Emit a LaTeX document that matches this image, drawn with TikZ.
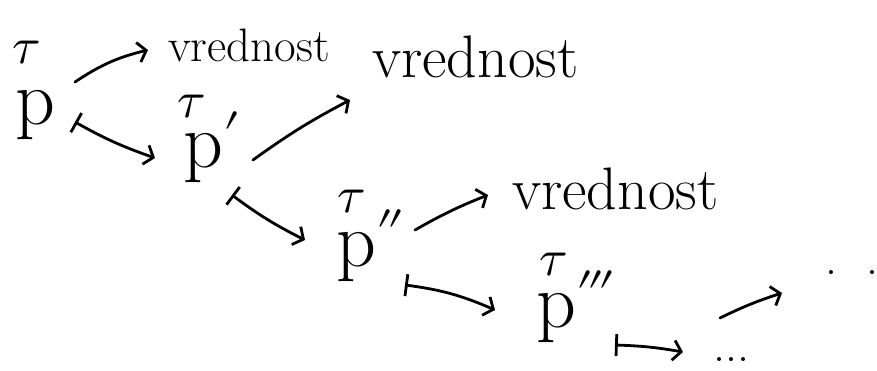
\documentclass[tikz,border=0pt]{standalone}
\usepackage{unicode-math}
\usetikzlibrary{arrows.meta}
\newcommand{\lowprime}[1]{\raisebox{-13pt}{$#1$}}
\begin{document}
\begin{tikzpicture}[x=1pt,y=-1pt,
  pn/.style={inner sep=0pt, anchor=base west, text height=34pt, text depth=15pt, font=\fontsize{78}{90}\selectfont},
  tn/.style={inner sep=0pt, anchor=base, font=\fontsize{52}{60}\selectfont},
  wn/.style={inner sep=0pt, anchor=base west},
  arr/.style={line width=2.8pt, line cap=round, -{Straight Barb[length=8pt,width=20pt,line width=2.8pt]}},
  mto/.style={line width=2.8pt, line cap=round, {Bar[width=22pt,line width=2.8pt]}-{Straight Barb[length=8pt,width=20pt,line width=2.8pt]}}
]
\useasboundingbox (0,0) rectangle (877,371);
% p nodes
\node[pn] (p0) at (15,125) {p};
\node[pn] (p1) at (183,168) {p\lowprime{'}};
\node[pn] (p2) at (336,266) {p\lowprime{''}};
\node[pn] (p3) at (536,327) {p\lowprime{'''}};
% tau marks
\node[tn] (t0) at (27,64) {$\tau$};
\node[tn] (t1) at (192,118) {$\tau$};
\node[tn] (t2) at (352,213) {$\tau$};
\node[tn] (t3) at (554,275) {$\tau$};
% values
\node[wn, font=\fontsize{47}{54}\selectfont] (v1) at (168,62) {vrednost};
\node[wn, font=\fontsize{60}{68}\selectfont] (v2) at (372,78) {vrednost};
\node[wn, font=\fontsize{60}{68}\selectfont] (v3) at (512,210) {vrednost};
\node[wn, font=\fontsize{48}{56}\selectfont] (d1) at (713,361) {...};
\node[wn, font=\fontsize{48}{56}\selectfont] (d2) at (825,274) {.\ \ .};
% arrows
\draw[arr] ([shift={(60,-43)}]p0.base west) to[bend left=10] ([shift={(-20,-12)}]v1.base west);
\draw[mto] ([shift={(60,-3)}]p0.base west) to[bend right=5] ([shift={(-28,-10)}]p1.base west);
\draw[arr] ([shift={(70,-8)}]p1.base west) to[bend left=4] ([shift={(-22,22)}]v2.base west);
\draw[mto] ([shift={(49,27)}]p1.base west) to[bend right=5] ([shift={(-31,-26)}]p2.base west);
\draw[arr] ([shift={(79,-36)}]p2.base west) to[bend left=4] ([shift={(-24,-15)}]v3.base west);
\draw[mto] ([shift={(69,19)}]p2.base west) to[bend left=8] ([shift={(-41,-17)}]p3.base west);
\draw[mto] ([shift={(79,18)}]p3.base west) to[bend left=4] ([shift={(-30,-9)}]d1.base west);
\draw[arr] ([shift={(184,-9)}]p3.base west) to[bend left=4] ([shift={(-43,19)}]d2.base west);
\end{tikzpicture}
\end{document}
